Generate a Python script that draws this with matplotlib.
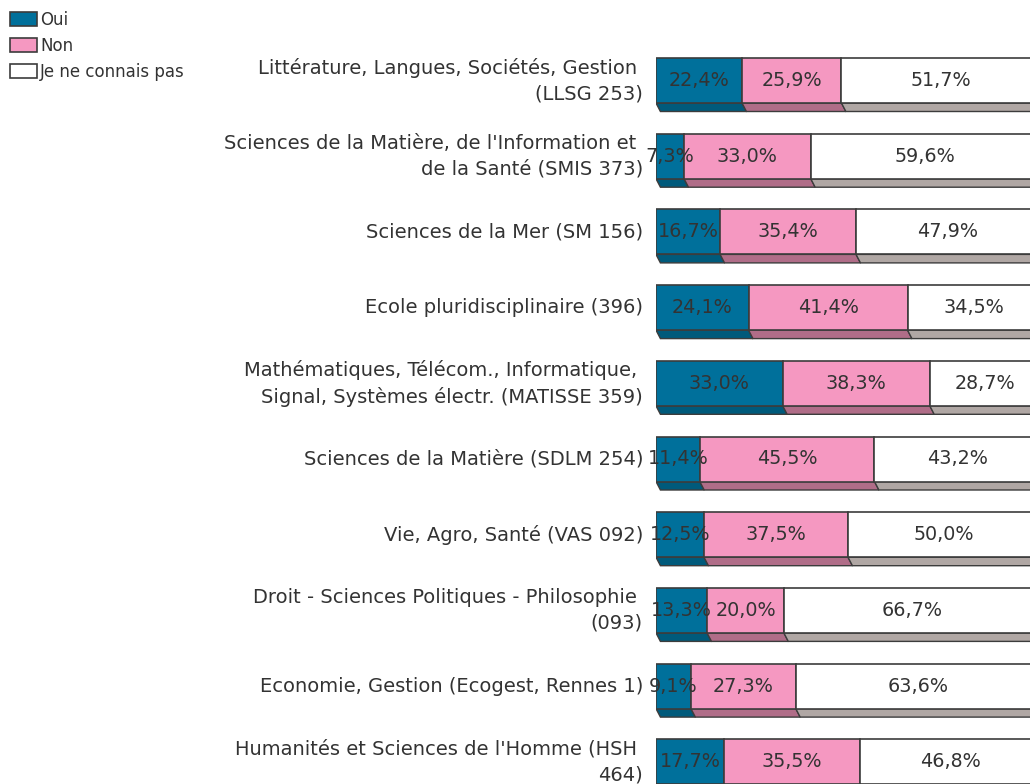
import matplotlib
matplotlib.use("Agg")
import matplotlib.pyplot as plt
from matplotlib.patches import Polygon, Patch
import numpy as np

plt.rcParams['font.family'] = ['DejaVu Sans']

categories = [
    "Littérature, Langues, Sociétés, Gestion \n(LLSG 253)",
    "Sciences de la Matière, de l'Information et \nde la Santé (SMIS 373)",
    "Sciences de la Mer (SM 156)",
    "Ecole pluridisciplinaire (396)",
    "Mathématiques, Télécom., Informatique, \nSignal, Systèmes électr. (MATISSE 359)",
    "Sciences de la Matière (SDLM 254)",
    "Vie, Agro, Santé (VAS 092)",
    "Droit - Sciences Politiques - Philosophie \n(093)",
    "Economie, Gestion (Ecogest, Rennes 1)",
    "Humanités et Sciences de l'Homme (HSH \n464)",
]
oui = [22.4, 7.3, 16.7, 24.1, 33.0, 11.4, 12.5, 13.3, 9.1, 17.7]
non = [25.9, 33.0, 35.4, 41.4, 38.3, 45.5, 37.5, 20.0, 27.3, 35.5]
nsp = [51.7, 59.6, 47.9, 34.5, 28.7, 43.2, 50.0, 66.7, 63.6, 46.8]
series_names = ["Oui", "Non", "Je ne connais pas"]

front_colors = ["#00709b", "#f598c1", "#ffffff"]
side_colors = ["#005a7b", "#b06d88", "#b0a7a4"]
edge = "#3c3c3c"
txt = "#333333"

W, H = 1030, 784
fig = plt.figure(figsize=(W / 100, H / 100), dpi=100)
# axes: x 0..100 maps to pixel 656..1040 (cut by the figure edge)
ax = fig.add_axes([656 / W, 0, 384 / W, 1])
ax.set_xlim(0, 100)
spacing = 75.7
ax.set_ylim((H - 80.5) / spacing, -80.5 / spacing)
ax.axis('off')

bar_h = 45 / spacing
depth = 8.5 / spacing
xoff = 1.15

series = [oui, non, nsp]
y = np.arange(len(categories))
for i in range(len(categories)):
    left = 0.0
    for s, vals in enumerate(series):
        v = vals[i]
        yb = y[i] + bar_h / 2
        # bottom 3D face
        poly = Polygon([[left, yb], [left + v, yb], [left + v + xoff, yb + depth], [left + xoff, yb + depth]],
                       closed=True, facecolor=side_colors[s], edgecolor=edge, linewidth=1.0, zorder=1)
        ax.add_patch(poly)
        left += v
    ax.barh(y[i], oui[i], height=bar_h, left=0, color=front_colors[0], edgecolor=edge, linewidth=1.2, zorder=2)
    ax.barh(y[i], non[i], height=bar_h, left=oui[i], color=front_colors[1], edgecolor=edge, linewidth=1.2, zorder=2)
    ax.barh(y[i], nsp[i], height=bar_h, left=oui[i] + non[i], color=front_colors[2], edgecolor=edge, linewidth=1.2, zorder=2)
    left = 0.0
    for s, vals in enumerate(series):
        v = vals[i]
        ax.text(left + v / 2, y[i], f"{v:.1f}%".replace('.', ','), ha='center', va='center',
                fontsize=13.8, color=txt, zorder=3, clip_on=False)
        left += v
    ax.text(-13 / 3.84, y[i], categories[i], ha='right', va='center', fontsize=14,
            color=txt, clip_on=False, multialignment='right', linespacing=1.46)

handles = [Patch(facecolor=front_colors[k], edgecolor=edge, linewidth=1.2) for k in range(3)]
fig.legend(handles, series_names, loc='upper left', bbox_to_anchor=(10 / W, 1 - 11 / H),
           frameon=False, fontsize=12, handlelength=1.6, handleheight=0.95,
           handletextpad=0.22, labelspacing=0.48, borderaxespad=0, borderpad=0,
           labelcolor=txt)

fig.savefig("out.png", dpi=100)
